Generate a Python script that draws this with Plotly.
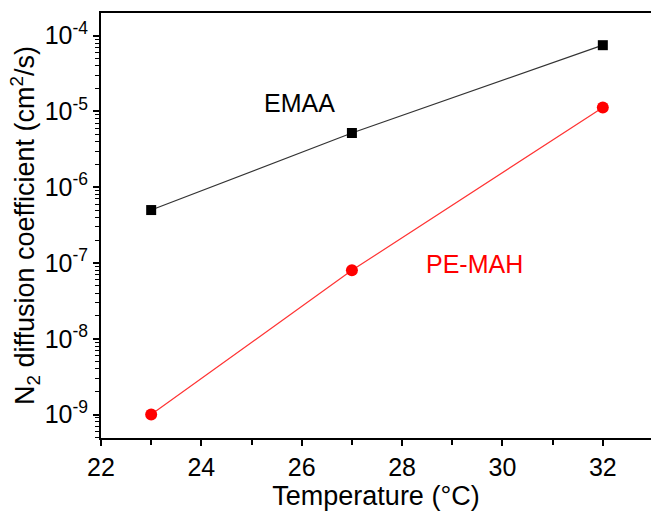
import plotly.graph_objects as go

temps = [23, 27, 32]
emaa = [5.0e-7, 5.2e-6, 7.5e-5]
pemah = [1.0e-9, 8.0e-8, 1.13e-5]

x_ticks = [22, 24, 26, 28, 30, 32]
x_minor = [23, 25, 27, 29, 31]
y_tickvals = [1e-9, 1e-8, 1e-7, 1e-6, 1e-5, 1e-4]
y_ticktext = ["10<sup>-9</sup>", "10<sup>-8</sup>", "10<sup>-7</sup>",
              "10<sup>-6</sup>", "10<sup>-5</sup>", "10<sup>-4</sup>"]

FONT = "Liberation Sans, Arial, sans-serif"

fig = go.Figure()
fig.add_trace(go.Scatter(x=temps, y=emaa, mode="lines+markers", name="EMAA",
                         line=dict(color="#333333", width=1.2),
                         marker=dict(symbol="square", size=10, color="black")))
fig.add_trace(go.Scatter(x=temps, y=pemah, mode="lines+markers", name="PE-MAH",
                         line=dict(color="#ff3333", width=1.2),
                         marker=dict(symbol="circle", size=12, color="#ff0000")))

fig.add_annotation(x=25.96, y=-4.89, xref="x", yref="y", text="EMAA",
                   showarrow=False, font=dict(family=FONT, size=25, color="black"))
fig.add_annotation(x=29.45, y=-7.01, xref="x", yref="y", text="PE-MAH",
                   showarrow=False, font=dict(family=FONT, size=25, color="#ff0000"))

fig.update_layout(
    width=651, height=516,
    margin=dict(l=101, r=0, t=13, b=78),
    paper_bgcolor="white", plot_bgcolor="white",
    showlegend=False,
    font=dict(family=FONT, color="black"),
)
fig.update_xaxes(
    range=[22, 32.96], tickvals=x_ticks, ticks="outside", ticklen=6, tickwidth=1.5,
    tickcolor="black",
    showline=True, linewidth=2, linecolor="black", mirror=True, showgrid=False,
    zeroline=False, tickfont=dict(size=25),
    minor=dict(tickvals=x_minor, ticks="outside", ticklen=5, tickwidth=1.5,
               tickcolor="black", showgrid=False),
    title=dict(text="Temperature (°C)", font=dict(size=27), standoff=6),
)
fig.update_yaxes(
    type="log", range=[-9.31, -3.70], tickvals=y_tickvals, ticktext=y_ticktext,
    ticks="outside", ticklen=6, tickwidth=1.5, tickcolor="black",
    showline=True, linewidth=2, linecolor="black", showgrid=False, zeroline=False,
    tickfont=dict(size=25),
    minor=dict(ticks="outside", ticklen=4, tickwidth=1, dtick="D1",
               tickcolor="black", showgrid=False),
    title=dict(text="N<sub>2</sub> diffusion coefficient (cm<sup>2</sup>/s)",
               font=dict(size=27), standoff=2),
)

fig.write_html("out.html")
